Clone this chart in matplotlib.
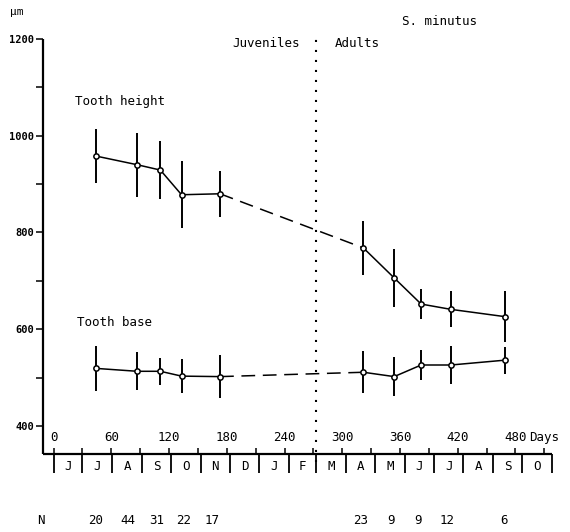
import numpy as np
import matplotlib
matplotlib.use("Agg")
import matplotlib.pyplot as plt
from matplotlib.transforms import blended_transform_factory

# ---- data ----
days = [44, 87, 111, 133, 173, 322, 354, 382, 413, 469]
height_mean = [958, 940, 929, 878, 880, 768, 706, 652, 641, 626]
height_err = [55, 66, 60, 69, 48, 55, 60, 31, 37, 53]
base_mean = [519, 513, 513, 503, 502, 511, 502, 526, 526, 536]
base_err = [46, 39, 28, 35, 45, 43, 41, 31, 40, 28]
n_values = ["20", "44", "31", "22", "17", "23", "9", "9", "12", "6"]
n_days = [44, 77, 107, 135, 165, 319, 351, 379, 409, 468]
months = ["J", "J", "A", "S", "O", "N", "D", "J", "F", "M", "A", "M", "J", "J", "A", "S", "O"]
month_len = [30, 31, 31, 30, 31, 30, 31, 31, 28, 31, 30, 31, 30, 31, 31, 30, 31]
day_ticks = list(range(0, 511, 30))
day_labels = list(range(0, 481, 60))
y_major = [400, 600, 800, 1000, 1200]
y_minor = [500, 700, 900, 1100]
split_day = 273
n_juv = 5

MONO = "DejaVu Sans Mono"

fig = plt.figure(figsize=(5.7, 5.32), dpi=100)
ax = fig.add_axes([43 / 570, 78 / 532, 509 / 570, 415 / 532])
ax.set_xlim(-11, 518)
ax.set_ylim(342, 1200)

for s in ["top", "right"]:
    ax.spines[s].set_visible(False)
for s in ["left", "bottom"]:
    ax.spines[s].set_linewidth(1.6)
    ax.spines[s].set_capstyle("butt")

# y axis ticks
ax.set_yticks(y_major)
ax.set_yticks(y_minor, minor=True)
ax.set_yticklabels([str(v) for v in y_major], fontsize=7.5, family=MONO, fontweight="bold")
ax.tick_params(axis="y", which="both", direction="out", length=5, width=1.1, pad=1.5)

# x axis ticks (inside, no labels)
ax.set_xticks(day_ticks)
ax.tick_params(axis="x", which="both", direction="in", length=4.3, width=1.1, labelbottom=False)

trans = blended_transform_factory(ax.transData, ax.transAxes)
for d in day_labels:
    ax.text(d, 0.040, str(d), transform=trans, ha="center", va="center", fontsize=9, family=MONO)
ax.text(day_labels[-1] + 14, 0.040, "Days", transform=trans, ha="left", va="center", fontsize=9, family=MONO)

# month boxes
bounds = np.concatenate([[0], np.cumsum(month_len)])
for b in bounds:
    ax.plot([b, b], [0, -0.046], transform=trans, color="black", lw=1.3, clip_on=False, solid_capstyle="butt")
for i, m in enumerate(months):
    c = (bounds[i] + bounds[i + 1]) / 2
    ax.text(c, -0.031, m, transform=trans, ha="center", va="center", fontsize=9, family=MONO)

# N row
ax.text(-13, -0.161, "N", transform=trans, ha="center", va="center", fontsize=9, family=MONO)
for d, n in zip(n_days, n_values):
    ax.text(d, -0.161, n, transform=trans, ha="center", va="center", fontsize=9, family=MONO)

# dotted separator
ax.plot([split_day, split_day], [-0.02, 1.0], transform=trans, color="black", lw=1.5,
        dashes=(1, 3.8), clip_on=False)

def draw_series(mean, err):
    ax.errorbar(days, mean, yerr=err, fmt="none", ecolor="black", elinewidth=1.4, capsize=0)
    ax.plot(days[:n_juv], mean[:n_juv], color="black", lw=1.1)
    ax.plot(days[n_juv - 1:n_juv + 1], mean[n_juv - 1:n_juv + 1], color="black", lw=1.1, dashes=(9, 5))
    ax.plot(days[n_juv:], mean[n_juv:], color="black", lw=1.1)
    ax.plot(days, mean, "o", ms=3.8, mfc="white", mec="black", mew=1.1, zorder=5)

draw_series(height_mean, height_err)
draw_series(base_mean, base_err)

ax.text(22, 1070, "Tooth height", ha="left", va="center", fontsize=9, family=MONO)
ax.text(24, 613, "Tooth base", ha="left", va="center", fontsize=9, family=MONO)
ax.text(256, 1190, "Juveniles", ha="right", va="center", fontsize=9, family=MONO)
ax.text(292, 1190, "Adults", ha="left", va="center", fontsize=9, family=MONO)
ax.text(362, 1237, "S. minutus", ha="left", va="center", fontsize=9, family=MONO)
fig.text(10 / 570, 1 - 12 / 532, "µm", ha="left", va="center", fontsize=8, family=MONO)

fig.savefig("out.png", dpi=100)
